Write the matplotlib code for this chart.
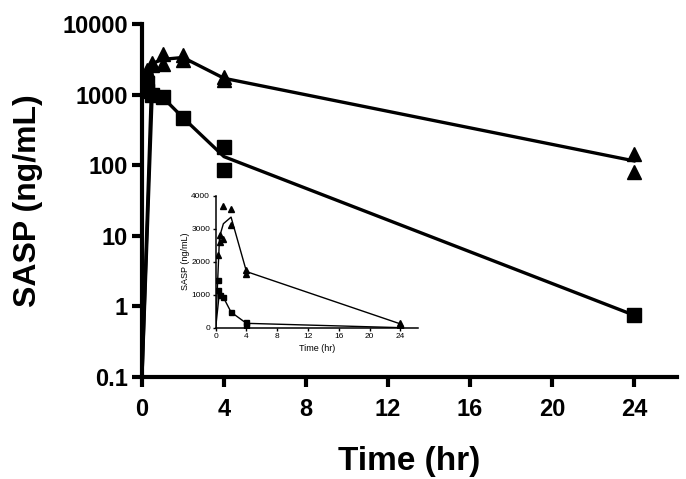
import numpy as np
import matplotlib
matplotlib.use("Agg")
import matplotlib.pyplot as plt
from matplotlib.ticker import FixedLocator, NullLocator

plt.rcParams['font.family'] = ['Liberation Sans', 'DejaVu Sans']

# ---- data ----
tri_t = [0.25, 0.5, 0.5, 1, 1, 2, 2, 4, 4, 24, 24]
tri_v = [2200, 2800, 2600, 3700, 2700, 3600, 3100, 1620, 1750, 145, 80]
sq_t = [0.25, 0.25, 0.5, 1, 2, 4, 4, 24]
sq_v = [1450, 1140, 990, 920, 470, 179, 85, 0.75]
mean_t = [0, 0.5, 1, 2, 4, 24]
tri_mean = [0, 2750, 3150, 3350, 1700, 115]
sq_mean = [0, 1100, 920, 470, 132, 0.75]

x_ticks = [0, 4, 8, 12, 16, 20, 24]
y_ticks = [0.1, 1, 10, 100, 1000, 10000]
y_tick_labels = ["0.1", "1", "10", "100", "1000", "10000"]
inset_y_ticks = [0, 1000, 2000, 3000, 4000]

fig = plt.figure(figsize=(6.86, 4.79), dpi=100)

# ---- main axes ----
ax = fig.add_axes([0.207, 0.213, 0.780, 0.737])
ymin, ymax = 0.1, 10000
ax.set_yscale('log')
tm = np.array(tri_mean, float)
sm = np.array(sq_mean, float)
ax.plot(mean_t, np.where(tm > 0, tm, ymin), color='black', lw=2.4, zorder=3)
ax.plot(mean_t, np.where(sm > 0, sm, ymin), color='black', lw=2.4, zorder=3)
ax.plot(tri_t, tri_v, ls='none', marker='^', ms=10.5, color='black', zorder=4)
ax.plot(sq_t, sq_v, ls='none', marker='s', ms=9.5, color='black', zorder=4)

ax.set_xlim(0, 26.1)
ax.set_ylim(ymin, ymax)
ax.xaxis.set_major_locator(FixedLocator(x_ticks))
ax.yaxis.set_major_locator(FixedLocator(y_ticks))
ax.yaxis.set_minor_locator(NullLocator())
ax.set_yticklabels(y_tick_labels)
for s in ['top', 'right']:
    ax.spines[s].set_visible(False)
for s in ['left', 'bottom']:
    ax.spines[s].set_linewidth(3)
ax.tick_params(axis='y', which='major', width=3, length=7, labelsize=17, pad=3)
ax.tick_params(axis='x', which='major', width=3, length=7, labelsize=17, pad=8)
for lab in ax.get_xticklabels() + ax.get_yticklabels():
    lab.set_fontweight('bold')
ax.set_xlabel('Time (hr)', fontsize=24, fontweight='bold', labelpad=18)
ax.set_ylabel('SASP (ng/mL)', fontsize=23, fontweight='bold')
ax.yaxis.set_label_coords(-0.185, 0.5)

# ---- inset ----
ins = fig.add_axes([0.3144, 0.3159, 0.295, 0.2756])
ins.patch.set_alpha(0)
ins.plot(mean_t, tri_mean, color='black', lw=1.0, zorder=3)
ins.plot(mean_t, sq_mean, color='black', lw=1.0, zorder=3)
ins.plot(tri_t, tri_v, ls='none', marker='^', ms=3.8, color='black', zorder=4)
ins.plot(sq_t, sq_v, ls='none', marker='s', ms=3.6, color='black', zorder=4)
ins.set_xlim(0, 26.3)
ins.set_ylim(0, 4000)
ins.xaxis.set_major_locator(FixedLocator(x_ticks))
ins.yaxis.set_major_locator(FixedLocator(inset_y_ticks))
for s in ['top', 'right']:
    ins.spines[s].set_visible(False)
for s in ['left', 'bottom']:
    ins.spines[s].set_linewidth(1.1)
ins.tick_params(axis='both', width=1.0, length=2.5, labelsize=6, pad=1.5)
ins.set_xlabel('Time (hr)', fontsize=6.5, labelpad=3)
ins.set_ylabel('SASP (ng/mL)', fontsize=6.5, labelpad=1)

fig.savefig('out.png', dpi=100)
